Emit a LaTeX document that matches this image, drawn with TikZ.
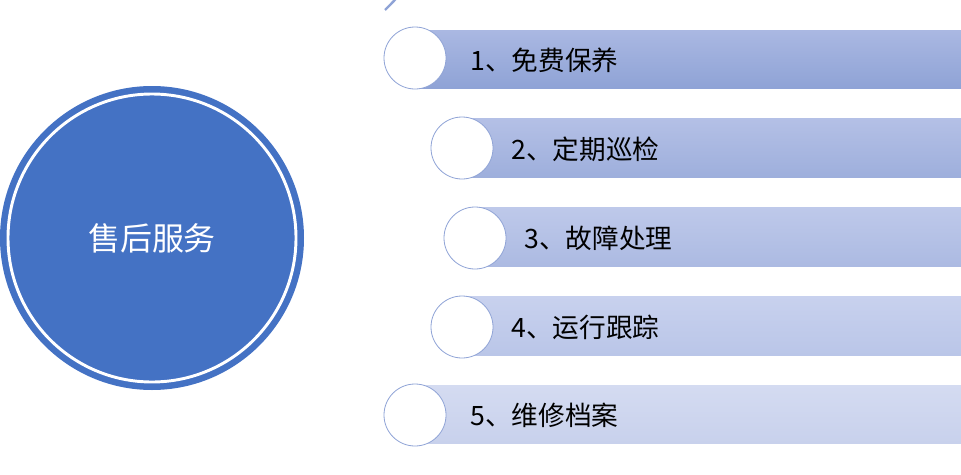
\documentclass[tikz,border=0pt]{standalone}
\usepackage{fontspec}
\newfontfamily\cjk{Noto Sans CJK SC}
\begin{document}
\begin{tikzpicture}[x=0.75pt,y=-0.75pt,
  small/.style={circle,draw={rgb,255:red,143;green,163;blue,214},fill=white,line width=0.6pt,minimum size=62*0.75pt,inner sep=0pt},
  lbl/.style={anchor=west,font=\cjk\fontsize{20}{24}\selectfont,inner sep=0pt}]
\useasboundingbox (0,0) rectangle (961,475);
\definecolor{mainblue}{RGB}{68,114,196}
\definecolor{arcc}{RGB}{143,163,214}
\shade[top color={rgb,255:red,170;green,184;blue,226},bottom color={rgb,255:red,143;green,163;blue,214}] (415,30) rectangle (961,88);
\shade[top color={rgb,255:red,180;green,192;blue,230},bottom color={rgb,255:red,158;green,175;blue,220}] (462,118) rectangle (961,177);
\shade[top color={rgb,255:red,190;green,201;blue,234},bottom color={rgb,255:red,172;green,186;blue,226}] (475,207) rectangle (961,266);
\shade[top color={rgb,255:red,200;green,209;blue,238},bottom color={rgb,255:red,186;green,198;blue,232}] (462,296) rectangle (961,355);
\shade[top color={rgb,255:red,212;green,219;blue,241},bottom color={rgb,255:red,200;green,209;blue,236}] (415,385) rectangle (961,443);
\coordinate (c) at (152,238);
\draw[arcc,line width=1.8pt] (385,10) arc[start angle=-45.6,end angle=45.6,x radius=326,y radius=-326];
\node[circle,fill=mainblue,minimum size=304*0.75pt,inner sep=0pt] (big) at (c) {};
\draw[white,line width=2.2pt] (c) circle[radius=144];
\node[text=white,font=\cjk\fontsize{24}{28}\selectfont] at (c) {售后服务};
\node[small] (s1) at (415,58) {};
\node[small] (s2) at (462,148) {};
\node[small] (s3) at (475,238) {};
\node[small] (s4) at (462,327) {};
\node[small] (s5) at (415,415) {};
\node[lbl] (t1) at (470,60) {1、免费保养};
\node[lbl] (t2) at (511,149) {2、定期巡检};
\node[lbl] (t3) at (524,238) {3、故障处理};
\node[lbl] (t4) at (511,327) {4、运行跟踪};
\node[lbl] (t5) at (470,415) {5、维修档案};
\end{tikzpicture}
\end{document}
